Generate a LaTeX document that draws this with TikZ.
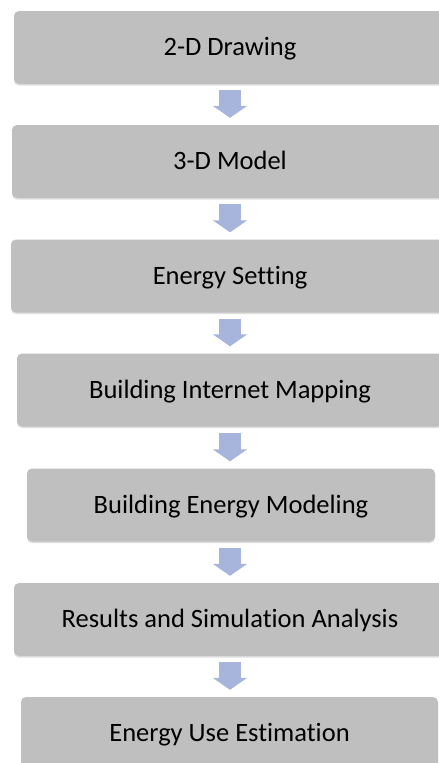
\documentclass[tikz,border=0pt]{standalone}
\usepackage{fontspec}
\setmainfont{Carlito}[RawFeature={-liga;-clig;-dlig;-calt}]
\usetikzlibrary{arrows.meta,calc}
\definecolor{boxgray}{RGB}{191,191,191}
\definecolor{shadegray}{RGB}{222,222,222}
\definecolor{flowblue}{RGB}{167,181,221}
\tikzset{
  stage/.style={rectangle, rounded corners=5pt, fill=boxgray, inner sep=0pt,
    minimum height=73pt, text=black, font=\fontsize{26.5}{30}\selectfont,
    text height=21pt, text depth=5pt,
    preaction={fill=shadegray, transform canvas={yshift=-1.5pt}}},
  flowarrow/.style={draw=flowblue, line width=22pt,
    -{Triangle[width=34pt,length=12pt]}}
}
\begin{document}
\begin{tikzpicture}[x=1pt,y=1pt]
  \useasboundingbox (0,0) rectangle (439,-763);
  \clip (0,0) rectangle (439,-763);
  \coordinate (axis) at (230,0);

  \node[stage, minimum width=432pt] (b1) at (230,-47.5) {2-D Drawing};
  \node[stage, minimum width=436pt] (b2) at (230,-161.5) {3-D Model};
  \node[stage, minimum width=438pt] (b3) at (230,-276) {Energy Setting};
  \node[stage, minimum width=426pt] (b4) at (230,-390) {Building Internet Mapping};
  \node[stage, minimum width=408pt] (b5) at (231,-505) {Building Energy Modeling};
  \node[stage, minimum width=432pt] (b6) at (230,-619.5) {Results and Simulation Analysis};
  \node[stage, minimum width=417pt] (b7) at (229.5,-733.5) {Energy Use Estimation};

  \foreach \a/\b in {b1/b2,b2/b3,b3/b4,b4/b5,b5/b6,b6/b7}
    \draw[flowarrow] ($(\a.south -| axis)+(0,-6)$) -- ($(\b.north -| axis)+(0,7)$);
\end{tikzpicture}
\end{document}
